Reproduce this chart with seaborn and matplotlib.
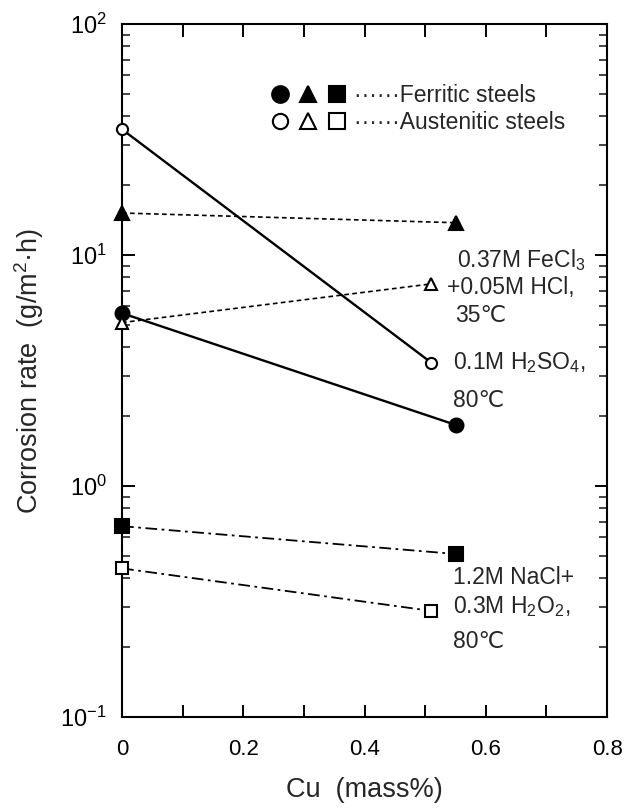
import numpy as np
import matplotlib
matplotlib.use('Agg')
import matplotlib.pyplot as plt
from matplotlib.lines import Line2D
from matplotlib.legend_handler import HandlerTuple
from matplotlib.ticker import LogLocator, FuncFormatter, NullFormatter
import seaborn as sns

# datos (Cu en mass%, velocidad en g/m2.h)
cu_ferritic = [0.0, 0.55]
cu_austenitic = [0.0, 0.51]
h2so4_ferritic = [5.6, 1.84]
h2so4_austenitic = [35.0, 3.42]
fecl3_ferritic = [15.2, 13.8]
fecl3_austenitic = [5.1, 7.5]
nacl_ferritic = [0.67, 0.508]
nacl_austenitic = [0.44, 0.288]

x_ticks = [0.0, 0.1, 0.2, 0.3, 0.4, 0.5, 0.6, 0.7, 0.8]
x_ticklabels = ['0', '', '0.2', '', '0.4', '', '0.6', '', '0.8']

sns.set_style('ticks')
plt.rcParams['font.family'] = ['Liberation Sans', 'DejaVu Sans']
plt.rcParams['mathtext.fontset'] = 'custom'
plt.rcParams['mathtext.rm'] = 'Liberation Sans'
plt.rcParams['mathtext.default'] = 'rm'

fig = plt.figure(figsize=(6.3, 8.09), dpi=100, facecolor='white')
ax = fig.add_axes([0.1937, 0.1137, 0.770, 0.8566])

solid = '-'
dashed = (0, (2.8, 2.0))
dashdot = (0, (6.5, 2.5, 1.5, 2.5))

# (x, y, marcador, relleno, estilo, tamano, grosor)
series = [
    (cu_austenitic, h2so4_austenitic, 'o', 'white', solid, 8, 1.7),
    (cu_ferritic, h2so4_ferritic, 'o', 'black', solid, 10, 1.7),
    (cu_ferritic, fecl3_ferritic, '^', 'black', dashed, 10.5, 1.2),
    (cu_austenitic, fecl3_austenitic, '^', 'white', dashed, 8.5, 1.2),
    (cu_ferritic, nacl_ferritic, 's', 'black', dashdot, 9.5, 1.3),
    (cu_austenitic, nacl_austenitic, 's', 'white', dashdot, 8, 1.3),
]
for xs, ys, mk, fc, ls, ms, lw in series:
    sns.lineplot(x=xs, y=ys, ax=ax, color='black', marker=mk, markersize=ms,
                 markerfacecolor=fc, markeredgecolor='black', markeredgewidth=1.5,
                 linestyle=ls, linewidth=lw, clip_on=False, zorder=5)

ax.set_yscale('log')
ax.set_ylim(0.1, 100)
ax.set_xlim(0, 0.8)
ax.set_xticks(x_ticks)
ax.set_xticklabels(x_ticklabels)
ax.yaxis.set_major_locator(LogLocator(base=10, numticks=10))
ax.yaxis.set_minor_locator(LogLocator(base=10, subs=np.arange(2, 10), numticks=20))
ax.yaxis.set_major_formatter(FuncFormatter(lambda v, p: '10$^{%d}$' % int(round(np.log10(v)))))
ax.yaxis.set_minor_formatter(NullFormatter())

for sp in ax.spines.values():
    sp.set_linewidth(1.5)
    sp.set_color('black')

ax.tick_params(axis='both', which='major', direction='in', top=True, right=True,
               length=9, width=1.4, colors='black')
ax.tick_params(axis='x', which='major', labelsize=16, pad=16)
ax.tick_params(axis='y', which='major', labelsize=17, pad=11)
ax.tick_params(axis='y', which='minor', direction='in', left=True, right=True,
               length=5.5, width=1.2)

ax.set_xlabel('Cu  (mass%)', fontsize=19.5, labelpad=12)
ax.set_ylabel('Corrosion rate  (g/m$^{2}$·h)', fontsize=19.5, labelpad=10)

# etiquetas de cada medio
fs = 16.5
ax.text(0.553, 9.5, '0.37M FeCl$_3$', fontsize=fs, va='center', ha='left')
ax.text(0.536, 7.2, '+0.05M HCl,', fontsize=fs, va='center', ha='left')
ax.text(0.550, 5.45, '35℃', fontsize=fs, va='center', ha='left')
ax.text(0.545, 3.42, '0.1M H$_2$SO$_4$,', fontsize=fs, va='center', ha='left')
ax.text(0.545, 2.35, '80℃', fontsize=fs, va='center', ha='left')
ax.text(0.545, 0.40, '1.2M NaCl+', fontsize=fs, va='center', ha='left')
ax.text(0.545, 0.302, '0.3M H$_2$O$_2$,', fontsize=fs, va='center', ha='left')
ax.text(0.545, 0.213, '80℃', fontsize=fs, va='center', ha='left')

# leyenda con tres marcadores por fila
def mk(m, fc, ms):
    return Line2D([], [], linestyle='none', marker=m, markersize=ms, color='black',
                  markerfacecolor=fc, markeredgecolor='black', markeredgewidth=1.5)

filled = (mk('o', 'black', 12), mk('^', 'black', 12), mk('s', 'black', 11.5))
hollow = (mk('o', 'white', 11), mk('^', 'white', 11), mk('s', 'white', 11))
ax.legend([filled, hollow], ['······Ferritic steels', '······Austenitic steels'],
          handler_map={tuple: HandlerTuple(ndivide=None, pad=0.3)},
          loc='upper left', bbox_to_anchor=(0.28, 0.93), frameon=False,
          fontsize=16.5, handlelength=3.4, handletextpad=0.3, labelspacing=0.18,
          borderpad=0)

plt.savefig('out.png', dpi=100, facecolor='white')
